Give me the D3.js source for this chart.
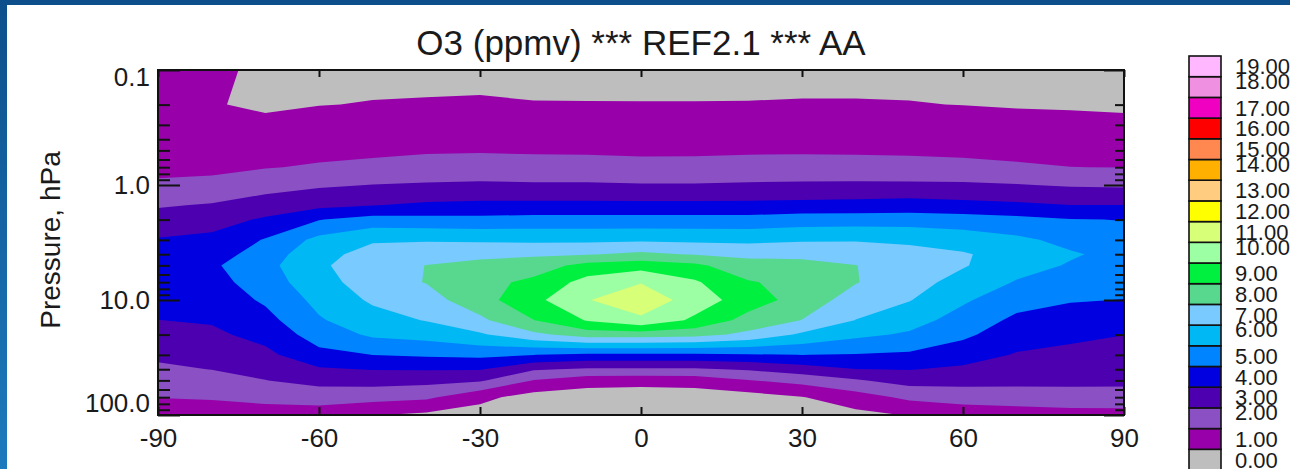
<!DOCTYPE html>
<html>
<head>
<meta charset="utf-8">
<script src="https://cdn.jsdelivr.net/npm/d3@7"></script>
<style>
  html, body { margin: 0; padding: 0; }
  body { width: 1290px; height: 469px; overflow: hidden;
         background: linear-gradient(to bottom, #0d4f8b, #1c7bbd); }
  svg { display: block; }
  text { font-family: "Liberation Sans", Arial, Helvetica, sans-serif; fill: #1a1a1a; }
  .tick text { font-size: 26px; }
  .tick line { stroke: #111; stroke-width: 2; }
</style>
</head>
<body>
<script>

// grid columns (latitude, deg) and rows (pressure, hPa, top of plot first)
var latitudes = [-90, -80, -70, -60, -50, -40, -30, -20, -10, 0, 10, 20, 30, 40, 50, 60, 70, 80, 90];
var pressures = [0.1, 0.2, 0.5, 0.7, 1, 1.5, 2, 3, 4, 5, 7, 10, 15, 20, 30, 40, 50, 70, 100];

// O3 (ppmv), one row per pressure level, -90 .. 90
var o3 = [
  [1.35, 1.08, 0.92, 0.75, 0.80, 0.85, 0.87, 0.85, 0.83, 0.82, 0.82, 0.84, 0.86, 0.86, 0.85, 0.80, 0.75, 0.70, 0.65],
  [1.55, 1.06, 0.85, 0.98, 1.03, 1.04, 1.05, 1.02, 1.02, 1.02, 1.02, 1.02, 1.03, 1.03, 1.02, 0.99, 0.93, 0.90, 0.85],
  [1.82, 1.60, 1.66, 1.75, 1.81, 1.89, 1.92, 1.88, 1.87, 1.83, 1.84, 1.87, 1.88, 1.87, 1.84, 1.80, 1.75, 1.70, 1.67],
  [1.92, 1.84, 1.95, 2.10, 2.23, 2.39, 2.45, 2.39, 2.37, 2.30, 2.30, 2.37, 2.41, 2.38, 2.33, 2.26, 2.12, 2.01, 1.98],
  [2.05, 2.18, 2.60, 2.87, 3.02, 3.10, 3.15, 3.11, 3.11, 3.06, 3.06, 3.11, 3.15, 3.16, 3.17, 3.15, 3.05, 2.90, 2.85],
  [2.90, 3.09, 3.47, 3.75, 3.97, 4.18, 4.24, 4.25, 4.25, 4.25, 4.25, 4.25, 4.30, 4.36, 4.44, 4.30, 4.19, 4.02, 4.02],
  [3.43, 3.61, 4.13, 4.96, 5.38, 5.30, 5.28, 5.35, 5.35, 5.35, 5.35, 5.35, 5.51, 5.51, 5.51, 5.44, 5.27, 5.05, 4.97],
  [4.07, 4.24, 5.07, 6.29, 6.92, 6.92, 6.84, 6.79, 6.79, 6.85, 6.79, 6.74, 6.87, 6.93, 6.86, 6.55, 6.20, 5.73, 5.42],
  [4.29, 4.59, 5.42, 6.76, 7.27, 7.57, 7.81, 7.86, 7.93, 8.20, 7.93, 7.78, 7.81, 7.51, 7.26, 7.10, 6.56, 6.10, 5.72],
  [4.46, 4.85, 5.69, 6.86, 7.50, 8.02, 8.22, 8.49, 9.34, 9.58, 9.21, 8.37, 8.23, 8.02, 7.50, 7.08, 6.37, 5.92, 5.66],
  [4.50, 4.61, 5.54, 6.58, 7.54, 8.04, 8.65, 9.25, 10.35, 10.95, 10.13, 9.08, 8.69, 8.05, 7.38, 6.65, 5.93, 5.51, 5.34],
  [4.27, 4.37, 5.15, 6.28, 7.15, 7.59, 8.61, 9.73, 10.95, 11.67, 10.54, 9.49, 8.60, 7.53, 7.05, 6.14, 5.38, 5.07, 4.98],
  [3.99, 4.09, 4.67, 5.90, 6.60, 7.05, 7.79, 8.98, 10.07, 10.80, 9.81, 8.64, 7.98, 6.98, 6.40, 5.59, 4.79, 4.57, 4.42],
  [3.66, 3.82, 4.31, 5.47, 6.16, 6.37, 6.87, 7.77, 8.48, 8.48, 8.34, 7.77, 6.84, 6.23, 5.87, 5.20, 4.44, 4.21, 4.01],
  [3.19, 3.35, 3.76, 4.71, 5.01, 5.14, 5.24, 5.01, 4.79, 4.79, 4.79, 4.90, 5.01, 4.94, 4.84, 4.44, 3.93, 3.76, 3.65],
  [2.82, 3.02, 3.33, 3.89, 4.05, 4.06, 4.07, 3.11, 2.87, 2.87, 2.87, 3.11, 3.54, 3.98, 4.04, 3.83, 3.56, 3.47, 3.40],
  [2.50, 2.65, 2.98, 3.33, 3.39, 3.31, 3.13, 1.96, 1.45, 1.40, 1.45, 1.96, 2.33, 2.89, 3.39, 3.36, 3.27, 3.24, 3.20],
  [2.02, 2.09, 2.25, 2.43, 2.36, 2.19, 1.26, 0.60, 0.45, 0.40, 0.45, 0.60, 0.96, 1.53, 2.22, 2.41, 2.52, 2.60, 2.65],
  [1.60, 1.50, 1.60, 1.50, 1.05, 0.80, 0.60, 0.50, 0.40, 0.35, 0.40, 0.50, 0.60, 0.75, 1.05, 1.40, 1.50, 1.60, 1.60]
];

// contour levels and their legend labels
var levels = d3.range(0, 20);
var levelLabels = levels.map(function(v) { return v.toFixed(2); });
var bandColors = ["#bebebe", "#9800aa", "#8a50c4", "#4c00b0", "#0000e0", "#0084ff", "#00b8f4",
                  "#78caff", "#58d88e", "#00f040", "#9cffa4", "#d8ff78", "#ffff00", "#ffcc80",
                  "#ffb000", "#ff8850", "#ff0000", "#f000c0", "#f090e0", "#ffb8ff"];

var xTicks = [-90, -60, -30, 0, 30, 60, 90];
var yTicks = [0.1, 1, 10, 100];
var yMinorTicks = [0.2, 0.3, 0.4, 0.5, 0.6, 0.7, 0.8, 0.9, 2, 3, 4, 5, 6, 7, 8, 9,
                   20, 30, 40, 50, 60, 70, 80, 90];

// plot box
var box = {left: 158, right: 1124, top: 70, bottom: 415};

var svg = d3.select("body").append("svg")
    .attr("width", 1290)
    .attr("height", 469);

// white page inside the blue slide frame
svg.append("rect")
    .attr("x", 7).attr("y", 5)
    .attr("width", 1283).attr("height", 464)
    .attr("fill", "#fff");

var x = d3.scaleLinear().domain([-90, 90]).range([box.left, box.right]);
var y = d3.scaleLog().domain([0.1, 100]).range([box.top, box.bottom]);

// d3.contours puts grid values at cell centres (index + 0.5)
var gx = d3.scaleLinear()
    .domain(latitudes.map(function(d, i) { return i + 0.5; }))
    .range(latitudes.map(function(d) { return x(d); }));
var gy = d3.scaleLinear()
    .domain(pressures.map(function(d, i) { return i + 0.5; }))
    .range(pressures.map(function(d) { return y(d); }));

var grid = [].concat.apply([], o3);
var bands = d3.contours()
    .size([latitudes.length, pressures.length])
    .thresholds(levels.slice(1))(grid);

var path = d3.geoPath(d3.geoTransform({
    point: function(px, py) { this.stream.point(gx(px), gy(py)); }
}));

svg.append("clipPath").attr("id", "plot-clip")
  .append("rect")
    .attr("x", box.left).attr("y", box.top)
    .attr("width", box.right - box.left).attr("height", box.bottom - box.top);

var plot = svg.append("g").attr("clip-path", "url(#plot-clip)");

// lowest band fills the whole box
plot.append("rect")
    .attr("x", box.left).attr("y", box.top)
    .attr("width", box.right - box.left).attr("height", box.bottom - box.top)
    .attr("fill", bandColors[0]);

plot.selectAll("path.band")
    .data(bands)
  .join("path")
    .attr("class", "band")
    .attr("d", path)
    .attr("fill", function(d) { return bandColors[d.value]; });

// axes, ticks pointing into the plot
svg.append("g")
    .attr("transform", "translate(" + box.left + ",0)")
    .call(d3.axisLeft(y).tickValues(yMinorTicks).tickSize(-12).tickFormat(""))
    .call(function(g) { g.select(".domain").remove(); });

var yAxis = svg.append("g")
    .attr("transform", "translate(" + box.left + ",0)")
    .call(d3.axisLeft(y).tickValues(yTicks).tickSize(-22).tickPadding(8).tickFormat(d3.format(".1f")))
    .call(function(g) { g.select(".domain").remove(); });

// keep the end labels inside the box
yAxis.selectAll(".tick text")
    .attr("y", function(d) { return d === 0.1 ? 7 : (d === 100 ? -12 : 0); });

svg.append("g")
    .attr("transform", "translate(" + box.right + ",0)")
    .call(d3.axisRight(y).tickValues(yMinorTicks).tickSize(-9).tickFormat(""))
    .call(function(g) { g.select(".domain").remove(); });

svg.append("g")
    .attr("transform", "translate(" + box.right + ",0)")
    .call(d3.axisRight(y).tickValues(yTicks).tickSize(-20).tickFormat(""))
    .call(function(g) { g.select(".domain").remove(); });

svg.append("g")
    .attr("transform", "translate(0," + box.bottom + ")")
    .call(d3.axisBottom(x).tickValues(xTicks).tickSize(-8).tickPadding(14)
        .tickFormat(function(d) { return String(d); }))
    .call(function(g) { g.select(".domain").remove(); });

svg.append("g")
    .attr("transform", "translate(0," + box.top + ")")
    .call(d3.axisTop(x).tickValues(xTicks).tickSize(-7).tickFormat(""))
    .call(function(g) { g.select(".domain").remove(); });

// frame
svg.append("rect")
    .attr("x", box.left).attr("y", box.top)
    .attr("width", box.right - box.left).attr("height", box.bottom - box.top)
    .attr("fill", "none")
    .attr("stroke", "#111")
    .attr("stroke-width", 2);

// title
svg.append("text")
    .attr("x", (box.left + box.right) / 2)
    .attr("y", 55)
    .style("text-anchor", "middle")
    .style("font-size", "35px")
    .text("O3 (ppmv) *** REF2.1 *** AA");

// y axis title
svg.append("text")
    .attr("transform", "translate(60,240) rotate(-90)")
    .style("text-anchor", "middle")
    .style("font-size", "28px")
    .text("Pressure, hPa");

// colour bar, highest level on top
var ly = d3.scaleLinear().domain([levels.length, 0]).range([56, 56 + 20.7 * levels.length]);

var legend = svg.append("g");

legend.selectAll("rect")
    .data(levels)
  .join("rect")
    .attr("x", 1189)
    .attr("y", function(d) { return ly(d + 1); })
    .attr("width", 32)
    .attr("height", function(d) { return ly(d) - ly(d + 1); })
    .attr("fill", function(d) { return bandColors[d]; })
    .attr("stroke", "#111")
    .attr("stroke-width", 1.6);

// the labels crowd every fourth one upwards, as in the original
legend.selectAll("text")
    .data(levels)
  .join("text")
    .attr("x", 1235)
    .attr("y", function(d) {
        var mid = (ly(d) + ly(d + 1)) / 2;
        return (levels.length - 1 - d) % 4 === 1 ? mid - 6 : mid;
    })
    .attr("dy", "0.36em")
    .style("font-size", "22px")
    .text(function(d, i) { return levelLabels[i]; });

</script>
</body>
</html>
